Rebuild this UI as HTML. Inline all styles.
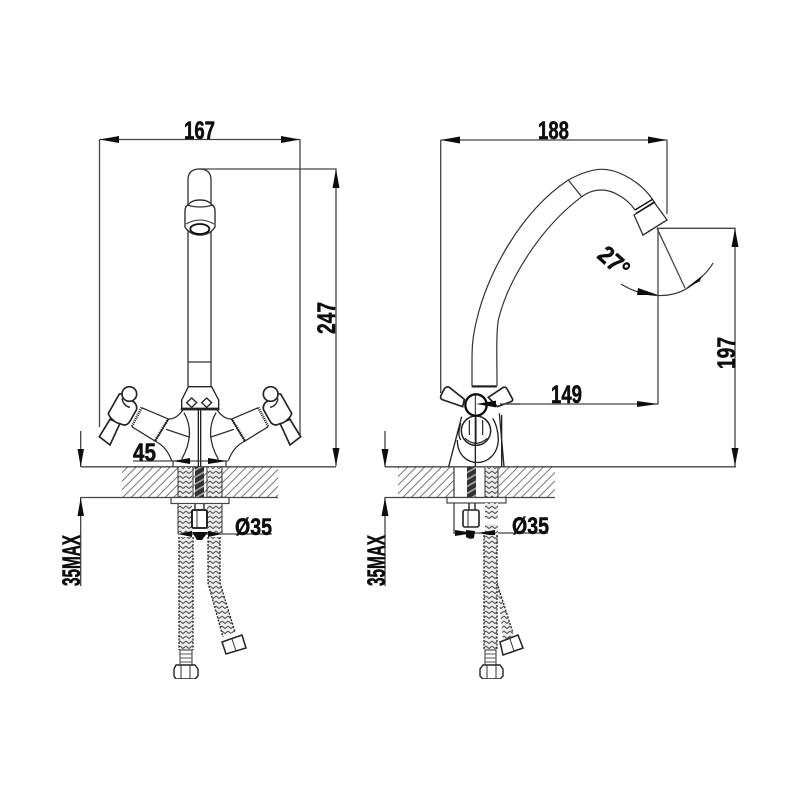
<!DOCTYPE html>
<html><head><meta charset="utf-8"><style>
html,body{margin:0;padding:0;background:#fff}
svg{display:block}
text{font-family:"Liberation Sans",sans-serif;font-weight:bold;fill:#111;stroke:#111;stroke-width:.55}
</style></head><body>
<svg width="800" height="800" viewBox="0 0 800 800" xmlns="http://www.w3.org/2000/svg">
<defs>
<pattern id="h" width="6" height="6" patternUnits="userSpaceOnUse" patternTransform="rotate(-45)"><rect width="6" height="1" fill="#777"/></pattern>
<pattern id="z" width="6" height="5" patternUnits="userSpaceOnUse"><rect width="6" height="5" fill="#eee"/><path d="M0 1L3 3.500L6 1" stroke="#555" stroke-width="1.100" fill="none"/></pattern>
<pattern id="d" width="4" height="6" patternUnits="userSpaceOnUse" patternTransform="rotate(-30)"><rect width="4" height="6" fill="#333"/><rect width="4" height="1.600" fill="#aaa"/></pattern>
<filter id="b" x="0" y="0" width="100%" height="100%"><feGaussianBlur stdDeviation="0.35"/></filter>
<g id="half" fill="none" stroke="#222" stroke-width="3.600">
 <path d="M118 200L150 225L180 160L150 148Z" fill="#fff" stroke-width="5"/>
 <path d="M178 72L145 130Q148 145 170 158L192 165Q205 165 212 150L230 118Q232 100 215 92L195 70Z" fill="#fff" stroke-width="5"/>
 <circle cx="208" cy="72" r="22" fill="#fff" stroke-width="5"/>
 <path d="M186 85Q190 108 210 112" stroke-width="4"/>
 <path d="M245 113L325 147L285 213L215 170"/>
 <path d="M245 113L215 170M325 147L285 213" stroke-width="8" stroke-dasharray="3 3"/>
 <path d="M285 213Q320 230 335 272"/>
 <path d="M325 147Q350 148 370 118"/>
 <path d="M372 128Q408 190 365 268"/>
 <path d="M318 178L390 202"/>
</g>
</defs>
<rect width="800" height="800" fill="#fff"/>
<g filter="url(#b)">

<!-- LEFT VIEW -->
<rect x="122" y="467" width="156" height="30.500" fill="url(#h)"/>
<g fill="none" stroke="#444" stroke-width="1.300">
 <path d="M99.500 139.500V427M300 139.500V437"/>
 <path d="M199 169H336V466M81 466.800H336M81 497.500H278"/>
 <path d="M80.700 431V467M80.700 497V586"/>
 <path d="M133 461H228M173 461V467M226 461V467"/>
 <path d="M178 534H272"/>
 <path d="M99.500 139.500H300"/>
</g>
<!-- spout left -->
<g fill="none" stroke="#333" stroke-width="1.300">
 <path d="M188 386V180Q188 169 199.500 169Q211 169 211 180V386"/>
 <path d="M188 362H211"/>
</g>
<path d="M185 211Q185 206 189 204Q192 200 200 200Q208 200 211 204Q215 206 215 211V227Q210 235 200 235Q190 235 185 227Z" fill="#fff" stroke="#333" stroke-width="1.400"/>
<path d="M187 205Q200 209 213 205" fill="none" stroke="#333" stroke-width="1.200"/>
<path d="M186 224Q200 216 214 224" fill="none" stroke="#333" stroke-width="1"/>
<ellipse cx="199.800" cy="229" rx="9.500" ry="5" fill="#fff" stroke="#111" stroke-width="1.800"/>

<g transform="translate(60 370) scale(.33333)">
 <use href="#half"/>
 <use href="#half" transform="translate(840 0) scale(-1 1)"/>
 <g fill="none" stroke="#222" stroke-width="4">
  <path d="M385 50H455L476 90V115H365V90Z" fill="#fff"/>
  <path d="M380 98L395 84L410 98L395 112ZM425 98L440 84L455 98L440 112Z"/>
  <path d="M415 118V290M422 118V290"/>
 </g>
 <path d="M362 118H478" stroke="#222" stroke-width="6"/>
</g>

<!-- left mounting -->
<rect x="178" y="467" width="14" height="30" fill="url(#z)"/>
<rect x="208" y="467" width="14" height="30" fill="url(#z)"/>
<rect x="195" y="467" width="9" height="30" fill="url(#d)"/>
<path d="M178 467V497M222 467V497M193 467V497M207 467V497" stroke="#333" stroke-width="1" fill="none"/>
<rect x="171" y="497.500" width="58" height="6" fill="#fff" stroke="#444" stroke-width="1.200"/>
<rect x="178" y="504" width="14" height="30" fill="url(#z)"/>
<rect x="207" y="504" width="15" height="30" fill="url(#z)"/>
<path d="M178 504V534M222 504V534" stroke="#333" stroke-width="1"/>
<rect x="192" y="510" width="15" height="18" rx="1.500" fill="#fff" stroke="#111" stroke-width="1.800"/>
<path d="M197 510V528" stroke="#333" stroke-width="1"/>
<path d="M195 504V510M204 504V510" stroke="#333" stroke-width="1.500"/>
<path d="M178 534L192 531V537ZM222 534L208 531V537Z" fill="#111"/>
<path d="M192 532H208L202 540H197Z" fill="#111"/>

<!-- left hoses -->
<rect x="179" y="537" width="14" height="113" fill="url(#z)"/>
<path d="M179 537V650M193 537V650" stroke="#222" stroke-width="1.300" stroke-dasharray="2 1.500"/>
<path d="M208 537V583L223 637L235 632L220 583V537Z" fill="url(#z)"/>
<path d="M208 537V583L223 637M220 537V583L235 632" stroke="#222" stroke-width="1.300" stroke-dasharray="2 1.500" fill="none"/>
<path d="M180 650H192V665H180Z" fill="#fff" stroke="#333" stroke-width="1"/>
<path d="M180 654H192M180 658H192M180 662H192" stroke="#555" stroke-width="1"/>
<path d="M176 665H195L198 669V676L195 679H176L174 676V669Z" fill="#fff" stroke="#222" stroke-width="1.400"/>
<path d="M181 665V679M190 665V679" stroke="#333" stroke-width="1"/>
<path d="M222 642L242 635L246 648L226 654Z" fill="#fff" stroke="#222" stroke-width="1.500"/>
<path d="M232 639L236 651" stroke="#333" stroke-width="1"/>

<!-- RIGHT VIEW -->
<rect x="398" y="467" width="56" height="30.500" fill="url(#h)"/>
<rect x="499" y="467" width="56" height="30.500" fill="url(#h)"/>
<g fill="none" stroke="#444" stroke-width="1.300">
 <path d="M440.700 140V393M667 140V214M440.700 140H667"/>
 <path d="M657 228.300H735V466.500M385 466.800H736M385 497.500H555"/>
 <path d="M385 431V467M385 497V586"/>
 <path d="M658 228.300V404H480"/>
 <path d="M657 228.300L685 288"/>
 <path d="M454 467V533H548"/>
</g>
<!-- arc spout -->
<g fill="none" stroke="#333" stroke-width="1.200">
 <path d="M472 386V360C472 345 473 335 476.700 320C487 275 520 212 568.300 180C585 171 595 169.300 602 169.300C618 169.300 642 182 654 201.700"/>
 <path d="M497 386C497 360 496 335 498.300 320C508 280 540 228 581.700 196.700C590 191 596 190 602 190C612 190 627 198 635 210"/>
 <path d="M568.300 180L581.700 196.700"/>
 <path d="M472 386H497" stroke-width="1.600"/>
</g>
<path d="M634 215L654 202L667 220L643 235Z" fill="#fff" stroke="#333" stroke-width="1.300"/>
<path d="M635 210L653 199" stroke="#111" stroke-width="1.400"/>
<path d="M636 213.500L655 202" stroke="#111" stroke-width="1.400"/>
<path d="M643 235L667 220" stroke="#222" stroke-width="1.500" stroke-dasharray="1.500 1.500"/>
<path d="M621 284C640 296 670 302 692 285C700 279 708 272 713 263" fill="none" stroke="#333" stroke-width="1.200"/>
<path d="M658 295L638 288L637 295Z" fill="#111"/>
<path d="M685 289L703 275L699 282L704 279Z" fill="#111"/>

<!-- right handle and body -->
<g transform="translate(370 360) scale(.33333)">
 <g fill="none" stroke="#222" stroke-width="4">
  <path d="M275 170L236 320M388 160L402 320M395 165V320"/>
  <path d="M262 240C262 330 380 330 385 240C385 215 378 190 368 175"/>
  <path d="M272 190C265 215 265 228 272 240"/>
  <circle cx="318" cy="212" r="44" stroke-width="4.500"/>
  <path d="M298 180V225M318 172V250M338 180V225M285 235Q318 265 352 235" stroke-width="3.500"/>
  <path d="M316 100V322"/>
 </g>
 <path d="M283 118L238 82Q228 78 222 88L212 108Q210 118 220 120L278 140Z" fill="#fff" stroke="#222" stroke-width="5"/>
 <path d="M355 112L400 82Q408 80 412 88L428 118Q428 124 420 126L382 140Z" fill="#fff" stroke="#222" stroke-width="5"/>
 <path d="M305 80H380" stroke="#222" stroke-width="5"/>
 <circle cx="318" cy="135" r="32" fill="#fff" stroke="#111" stroke-width="7"/>
 <path d="M316 105V165" stroke="#222" stroke-width="3"/>
 <path d="M318 132L378 122V142Z" fill="#111"/>
</g>
<path d="M500 404H520" stroke="#444" stroke-width="1.200"/>
<path d="M658 404L637 401V407Z" fill="#111"/>

<!-- right mounting -->
<rect x="467" y="467" width="9" height="30" fill="url(#d)"/>
<rect x="485" y="467" width="13" height="30" fill="url(#z)"/>
<path d="M485 467V497M498 467V497" stroke="#333" stroke-width="1"/>
<rect x="447" y="497.500" width="59" height="5.500" fill="#fff" stroke="#444" stroke-width="1.200"/>
<rect x="485" y="503" width="13" height="16" fill="url(#z)"/>
<rect x="485" y="524" width="13" height="20" fill="url(#z)"/>
<path d="M469 503V511M475 503V511" stroke="#333" stroke-width="1.500"/>
<rect x="463" y="510" width="16" height="17" rx="2" fill="#fff" stroke="#222" stroke-width="1.600"/>
<path d="M468 510V527" stroke="#333" stroke-width="1"/>
<path d="M474 533L455 530V536Z" fill="#111"/>
<path d="M478 533L495 530V536Z" fill="#111"/>
<path d="M466 530L475 531L474 538Q470 540 466 537Z" fill="#111"/>

<!-- right hoses -->
<path d="M497 583L503 640L514 636Z" fill="url(#z)"/>
<path d="M497 583L513 633" stroke="#222" stroke-width="1.300" stroke-dasharray="2 1.500"/>
<path d="M500 642L518 635L523 648L503 655Z" fill="#fff" stroke="#222" stroke-width="1.500"/>
<path d="M510 639L514 651" stroke="#333" stroke-width="1"/>
<rect x="484" y="535" width="13" height="115" fill="url(#z)"/>
<path d="M484 535V650M497 535V650" stroke="#222" stroke-width="1.300" stroke-dasharray="2 1.500"/>
<path d="M485 650H496V665H485Z" fill="#fff" stroke="#333" stroke-width="1"/>
<path d="M485 654H496M485 658H496M485 662H496" stroke="#555" stroke-width="1"/>
<path d="M483 665H500L503 669V676L500 679H483L480 676V669Z" fill="#fff" stroke="#222" stroke-width="1.400"/>
<path d="M487 665V679M496 665V679" stroke="#333" stroke-width="1"/>

<!-- arrowheads -->
<g fill="#111">
 <path d="M99.500 139.500L119 136V143ZM300 139.500L281 136V143Z"/>
 <path d="M336 169L332.500 188H339.500ZM336 466L332.500 448H339.500Z"/>
 <path d="M173 461L190 458V464ZM227 461L208 458V464Z"/>
 <path d="M80.700 467L77.500 449H84ZM80.700 497.500L77.500 516H84Z"/>
 <path d="M440.700 140L460 136.500V143.500ZM667 140L648 136.500V143.500Z"/>
 <path d="M735 228.500L731.500 247H738.500ZM735 466L731.500 448H738.500Z"/>
 <path d="M385 467L381.500 449H388.500ZM385 497.500L381.500 516H388.500Z"/>
</g>

<!-- labels -->
<text x="184" y="139" font-size="25" textLength="31" lengthAdjust="spacingAndGlyphs">167</text>
<text transform="translate(335 334) rotate(-90)" font-size="25" textLength="32" lengthAdjust="spacingAndGlyphs">247</text>
<text x="133" y="461" font-size="25" textLength="23" lengthAdjust="spacingAndGlyphs">45</text>
<text x="235" y="535" font-size="24" textLength="37" lengthAdjust="spacingAndGlyphs">Ø35</text>
<text transform="translate(80 586) rotate(-90)" font-size="25" textLength="51" lengthAdjust="spacingAndGlyphs">35MAX</text>
<text x="538" y="139" font-size="25" textLength="31" lengthAdjust="spacingAndGlyphs">188</text>
<text x="551" y="403" font-size="25" textLength="31" lengthAdjust="spacingAndGlyphs">149</text>
<text transform="translate(735 369) rotate(-90)" font-size="25" textLength="32" lengthAdjust="spacingAndGlyphs">197</text>
<text x="512" y="534" font-size="24" textLength="37" lengthAdjust="spacingAndGlyphs">Ø35</text>
<text transform="translate(385 586) rotate(-90)" font-size="25" textLength="51" lengthAdjust="spacingAndGlyphs">35MAX</text>
<text transform="translate(596 257) rotate(42)" font-size="25" textLength="33" lengthAdjust="spacingAndGlyphs">27°</text>
</g>
</svg>
</body></html>
